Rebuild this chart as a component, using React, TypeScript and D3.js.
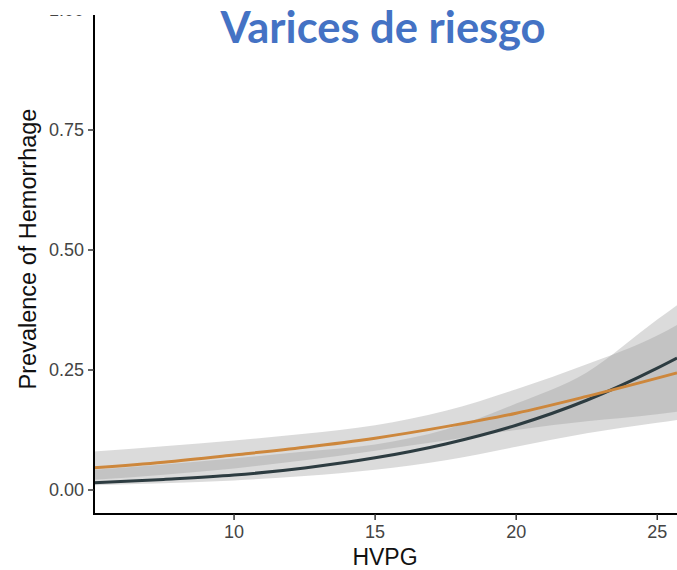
import React from "react";
import * as d3 from "d3";

const hvpg = [5, 7.5, 10, 12.5, 15, 17.5, 20, 22.5, 25, 25.7];
const orangeFit = [0.046, 0.058, 0.073, 0.089, 0.108, 0.132, 0.16, 0.195, 0.233, 0.244];
const orangeLo = [0.021, 0.032, 0.045, 0.062, 0.082, 0.103, 0.125, 0.143, 0.158, 0.163];
const orangeHi = [0.08, 0.091, 0.103, 0.117, 0.135, 0.165, 0.21, 0.262, 0.322, 0.344];
const darkFit = [0.015, 0.022, 0.031, 0.046, 0.067, 0.096, 0.135, 0.187, 0.254, 0.275];
const darkLo = [0.01, 0.014, 0.02, 0.029, 0.042, 0.062, 0.09, 0.118, 0.14, 0.146];
const darkHi = [0.042, 0.053, 0.066, 0.08, 0.095, 0.126, 0.18, 0.245, 0.355, 0.385];

const xTicks = [10, 15, 20, 25];
const yTicks = [0, 0.25, 0.5, 0.75, 1.0];
const title = "Varices de riesgo";
const xTitle = "HVPG";
const yTitle = "Prevalence of Hemorrhage";

const W = 677;
const H = 570;
const left = 94;
const bottom = 514;
const top = 15;

export default function App() {
  const x = d3.scaleLinear().domain([5, 25.7]).range([93, 677]);
  const y = d3.scaleLinear().domain([-0.05, 1.05]).range([514, -14]);

  const area = (lo: number[], hi: number[]) =>
    d3
      .area<number>()
      .x((_, i) => x(hvpg[i]))
      .y0((_, i) => y(lo[i]))
      .y1((_, i) => y(hi[i]))
      .curve(d3.curveMonotoneX)(hvpg) || "";
  const line = (v: number[]) =>
    d3
      .line<number>()
      .x((_, i) => x(hvpg[i]))
      .y((_, i) => y(v[i]))
      .curve(d3.curveMonotoneX)(hvpg) || "";

  const font = "'Liberation Sans', Arial, sans-serif";

  return (
    <svg
      width={W}
      height={H}
      style={{ position: "absolute", left: 0, top: 0, background: "#fff" }}
    >
      <defs>
        <clipPath id="plot">
          <rect x={left} y={top} width={W - left} height={bottom - top} />
        </clipPath>
        <clipPath id="ylab">
          <rect x={0} y={15} width={left} height={H} />
        </clipPath>
      </defs>
      <g clipPath="url(#plot)">
        <path d={area(darkLo, darkHi)} fill="#999999" fillOpacity={0.35} />
        <path d={area(orangeLo, orangeHi)} fill="#999999" fillOpacity={0.35} />
        <path d={line(darkFit)} fill="none" stroke="#2D3C41" strokeWidth={3} />
        <path d={line(orangeFit)} fill="none" stroke="#CD873C" strokeWidth={3} />
      </g>
      <line x1={left} x2={left} y1={top} y2={bottom + 1} stroke="#000" strokeWidth={2} />
      <line x1={left - 1} x2={W} y1={bottom} y2={bottom} stroke="#000" strokeWidth={2} />
      <g clipPath="url(#ylab)">
        {yTicks.map((t) => (
          <g key={t}>
            <line x1={left - 6} x2={left} y1={y(t)} y2={y(t)} stroke="#333" strokeWidth={1.5} />
            <text
              x={left - 10}
              y={y(t)}
              dy="0.35em"
              textAnchor="end"
              fontFamily={font}
              fontSize={18}
              fill="#444"
            >
              {t.toFixed(2)}
            </text>
          </g>
        ))}
      </g>
      {xTicks.map((t) => (
        <g key={t}>
          <line x1={x(t)} x2={x(t)} y1={bottom} y2={bottom + 6} stroke="#333" strokeWidth={1.5} />
          <text
            x={x(t)}
            y={bottom + 24}
            textAnchor="middle"
            fontFamily={font}
            fontSize={18}
            fill="#444"
          >
            {t}
          </text>
        </g>
      ))}
      <text
        x={(left + W) / 2 - 0.5}
        y={565}
        textAnchor="middle"
        fontFamily={font}
        fontSize={23}
        fill="#111"
      >
        {xTitle}
      </text>
      <text
        transform={`translate(36, 249) rotate(-90)`}
        textAnchor="middle"
        fontFamily={font}
        fontSize={23.5}
        fill="#111"
      >
        {yTitle}
      </text>
      <text
        x={383}
        y={43}
        textAnchor="middle"
        fontFamily="Lato, 'Open Sans', sans-serif"
        fontWeight={700}
        fontSize={43.5}
        fill="#4472C4"
      >
        {title}
      </text>
    </svg>
  );
}
